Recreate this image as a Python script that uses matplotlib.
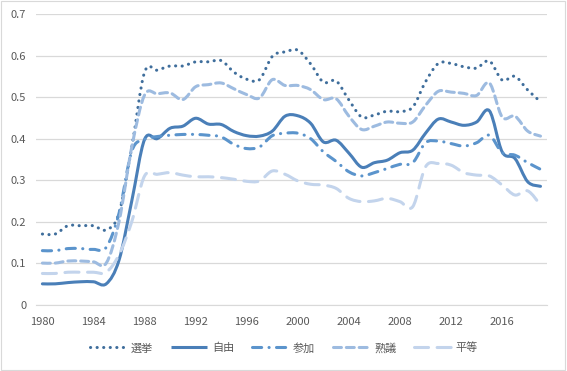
import matplotlib
matplotlib.use("Agg")
import matplotlib.pyplot as plt
import numpy as np
from matplotlib.lines import Line2D
from matplotlib.patches import PathPatch, Rectangle
from matplotlib.path import Path

plt.rcParams["font.family"] = ["Noto Sans CJK JP", "DejaVu Sans"]

YEARS = list(range(1980, 2020))

senkyo = [0.17, 0.17, 0.19, 0.19, 0.19, 0.18, 0.22, 0.38, 0.56, 0.565,
          0.575, 0.575, 0.585, 0.585, 0.588, 0.56, 0.543, 0.542, 0.598, 0.609,
          0.613, 0.58, 0.536, 0.539, 0.493, 0.452, 0.457, 0.466, 0.465, 0.476,
          0.537, 0.581, 0.581, 0.573, 0.57, 0.587, 0.541, 0.55, 0.517, 0.489]
jiyuu = [0.05, 0.05, 0.053, 0.055, 0.055, 0.05, 0.107, 0.25, 0.398, 0.40,
         0.425, 0.43, 0.449, 0.435, 0.434, 0.417, 0.407, 0.406, 0.418, 0.454,
         0.455, 0.437, 0.392, 0.396, 0.365, 0.331, 0.342, 0.348, 0.366, 0.372,
         0.413, 0.447, 0.44, 0.432, 0.44, 0.467, 0.368, 0.352, 0.296, 0.285]
sanka = [0.13, 0.13, 0.135, 0.135, 0.133, 0.138, 0.22, 0.37, 0.398, 0.405,
         0.408, 0.41, 0.41, 0.408, 0.404, 0.386, 0.376, 0.38, 0.407, 0.413,
         0.413, 0.40, 0.368, 0.345, 0.32, 0.31, 0.318, 0.328, 0.338, 0.342,
         0.39, 0.394, 0.388, 0.382, 0.39, 0.408, 0.366, 0.36, 0.342, 0.326]
jukugi = [0.10, 0.10, 0.105, 0.105, 0.103, 0.10, 0.20, 0.38, 0.505, 0.508,
          0.51, 0.494, 0.525, 0.53, 0.534, 0.52, 0.506, 0.498, 0.542, 0.528,
          0.528, 0.518, 0.494, 0.496, 0.454, 0.422, 0.43, 0.44, 0.437, 0.44,
          0.48, 0.514, 0.512, 0.509, 0.504, 0.534, 0.452, 0.454, 0.418, 0.406]
byoudou = [0.075, 0.075, 0.078, 0.078, 0.078, 0.078, 0.12, 0.20, 0.31, 0.314,
           0.318, 0.312, 0.308, 0.308, 0.306, 0.302, 0.297, 0.298, 0.322, 0.314,
           0.298, 0.29, 0.288, 0.28, 0.256, 0.248, 0.25, 0.256, 0.248, 0.236,
           0.332, 0.34, 0.336, 0.318, 0.312, 0.31, 0.288, 0.264, 0.274, 0.24]

SERIES = [
    ("選挙", senkyo, "#3f6e9c", (0, (0.05, 2.1))),
    ("自由", jiyuu, "#4a7fb8", "solid"),
    ("参加", sanka, "#5b94cc", (0, (3.0, 2.4, 0.05, 2.4))),
    ("熟議", jukugi, "#9dbbe0", (0, (2.6, 1.6))),
    ("平等", byoudou, "#c3d4ec", (0, (4.6, 2.8))),
]


def smooth_path(x, y):
    # Excel-like smoothed line: Catmull-Rom as cubic Bezier segments
    pts = np.column_stack([x, y]).astype(float)
    n = len(pts)
    verts = [pts[0]]
    codes = [Path.MOVETO]
    for i in range(n - 1):
        p0 = pts[max(i - 1, 0)]
        p1, p2 = pts[i], pts[i + 1]
        p3 = pts[min(i + 2, n - 1)]
        verts += [p1 + (p2 - p0) / 6, p2 - (p3 - p1) / 6, p2]
        codes += [Path.CURVE4] * 3
    return Path(verts, codes)


fig = plt.figure(figsize=(5.67, 3.71), dpi=100)
ax = fig.add_axes([0.0635, 0.179, 0.901, 0.783])

handles = []
for name, vals, color, ls in SERIES:
    ax.add_patch(PathPatch(smooth_path(YEARS, vals), fill=False, edgecolor=color,
                           linewidth=2.2, linestyle=ls, capstyle="round",
                           joinstyle="round"))
    handles.append(Line2D([], [], color=color, linewidth=2.2, linestyle=ls,
                          dash_capstyle="round", solid_capstyle="butt", label=name))

ax.set_xlim(1979.5, 2019.5)
ax.set_ylim(0, 0.7)
ax.set_yticks(np.arange(0, 0.71, 0.1))
ax.set_yticklabels(["0"] + [f"{v:.1f}" for v in np.arange(0.1, 0.71, 0.1)])
ax.set_xticks(range(1980, 2017, 4))
ax.grid(axis="y", color="#d9d9d9", linewidth=0.9)
ax.set_axisbelow(True)
for s in ["top", "right", "left"]:
    ax.spines[s].set_visible(False)
ax.spines["bottom"].set_color("#d9d9d9")
ax.tick_params(length=0, labelsize=8, labelcolor="#595959")
ax.tick_params(axis="x", pad=9)
ax.tick_params(axis="y", pad=7)

fig.legend(handles=handles, loc="center", bbox_to_anchor=(0.5, 0.062), ncol=5,
           frameon=False, fontsize=8, handlelength=3.3, columnspacing=1.6,
           handletextpad=0.4, labelcolor="#595959")

fig.add_artist(Rectangle((0.002, 0.003), 0.995, 0.993, transform=fig.transFigure,
                         fill=False, edgecolor="#d9d9d9", linewidth=0.8))

fig.savefig("out.png", dpi=100)
